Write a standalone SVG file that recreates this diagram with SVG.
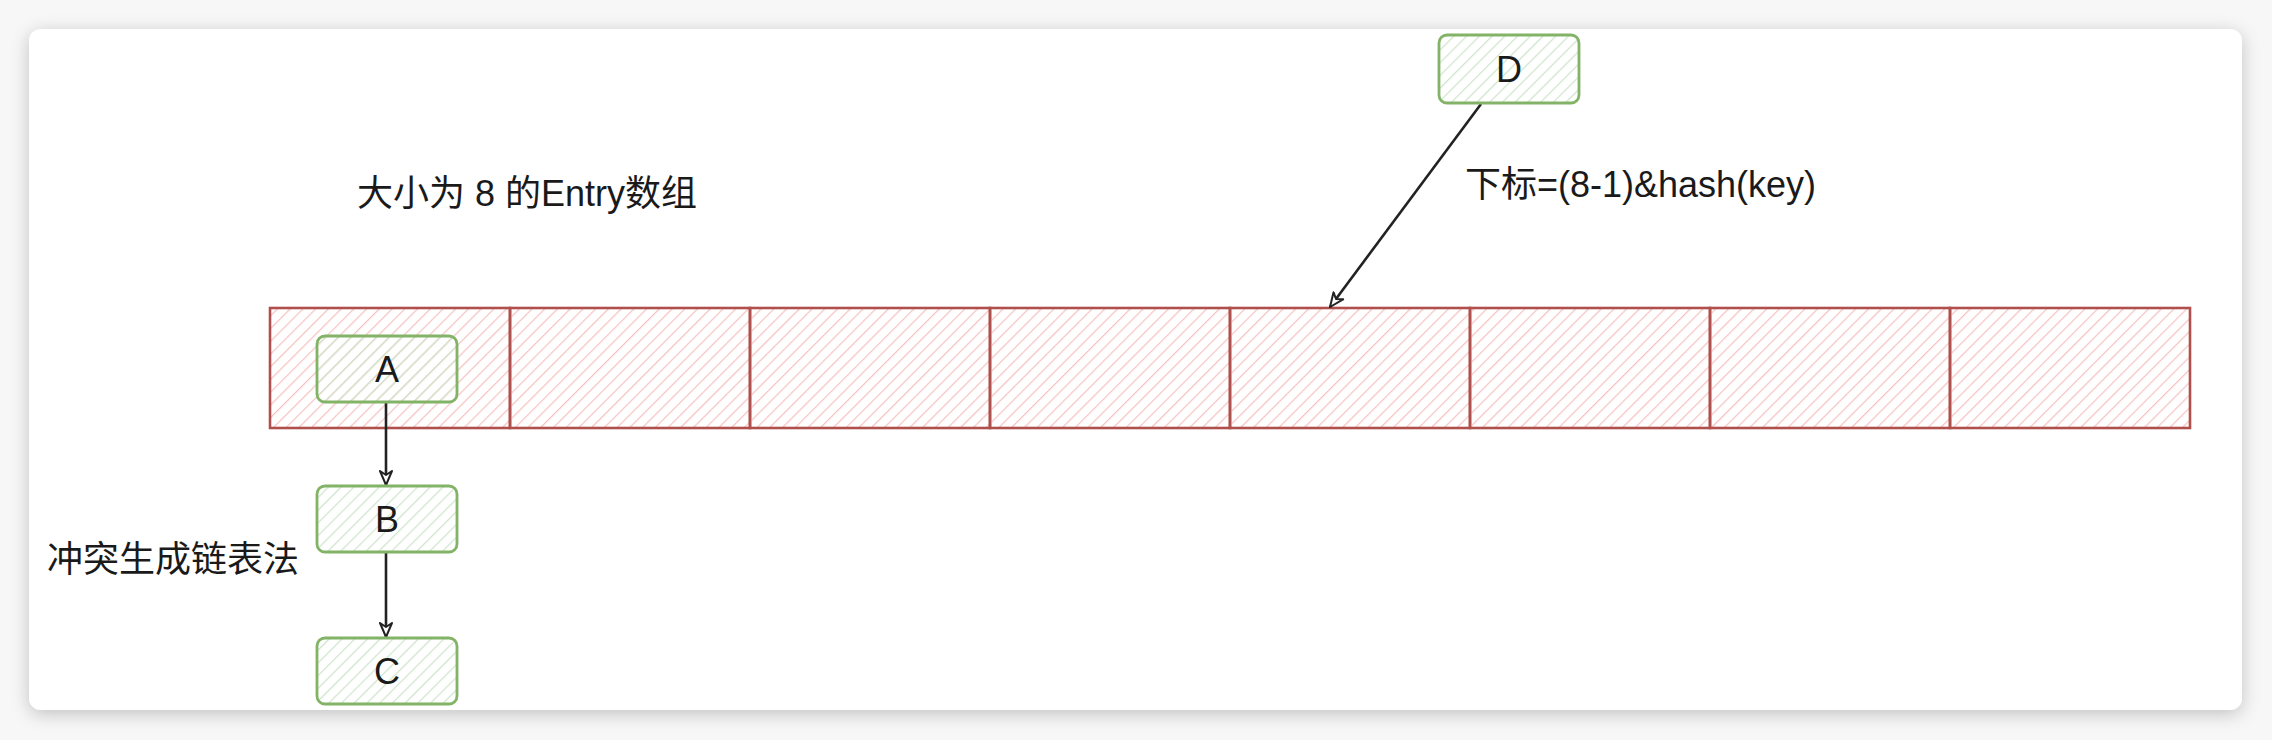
<svg xmlns="http://www.w3.org/2000/svg" width="2272" height="740" viewBox="0 0 2272 740">
  <defs>
    <pattern id="hatchRed" patternUnits="userSpaceOnUse" width="9" height="9" patternTransform="rotate(45)">
      <line x1="0" y1="0" x2="0" y2="9" stroke="#f5c4c2" stroke-width="2.5"/>
    </pattern>
    <pattern id="hatchGreen" patternUnits="userSpaceOnUse" width="9" height="9" patternTransform="rotate(45)">
      <line x1="0" y1="0" x2="0" y2="9" stroke="#cfe5cc" stroke-width="2.5"/>
    </pattern>
    <filter id="shadow" x="-5%" y="-10%" width="110%" height="120%">
      <feDropShadow dx="0" dy="4" stdDeviation="9" flood-color="#000" flood-opacity="0.22"/>
    </filter>
    <marker id="arrow" viewBox="0 0 16 16" refX="15" refY="8" markerWidth="16" markerHeight="16" markerUnits="userSpaceOnUse" orient="auto">
      <path d="M1,2 L15,8 L1,14 L5,8 Z" fill="#fff" stroke="#222" stroke-width="2" stroke-linejoin="round"/>
    </marker>
  </defs>
  <style>
    .cell { fill: url(#hatchRed); stroke: #b0504c; stroke-width: 2.6; }
    .node rect { fill: url(#hatchGreen); stroke: #82b366; stroke-width: 2.8; }
    .lbl { font-family: "Liberation Sans", "Noto Sans CJK SC", sans-serif; font-size: 36px; fill: #1a1a1a; dominant-baseline: central; }
    .ntxt { font-family: "Liberation Sans", Arial, sans-serif; font-size: 36px; fill: #1a1a1a; text-anchor: middle; dominant-baseline: central; }
    .edge { fill: none; stroke: #222; stroke-width: 2.6; }
  </style>
  <rect x="0" y="0" width="2272" height="740" fill="#f7f7f7"/>
  <rect x="29" y="29" width="2213" height="681" rx="12" ry="12" fill="#fff" filter="url(#shadow)"/>

  <g id="array">
    <rect class="cell" x="270" y="308" width="240" height="120"/>
    <rect class="cell" x="510" y="308" width="240" height="120"/>
    <rect class="cell" x="750" y="308" width="240" height="120"/>
    <rect class="cell" x="990" y="308" width="240" height="120"/>
    <rect class="cell" x="1230" y="308" width="240" height="120"/>
    <rect class="cell" x="1470" y="308" width="240" height="120"/>
    <rect class="cell" x="1710" y="308" width="240" height="120"/>
    <rect class="cell" x="1950" y="308" width="240" height="120"/>
  </g>

  <g id="label-array">
    <text class="lbl" x="357" y="193">大小为 8 的Entry数组</text>
  </g>
  <g id="label-chain">
    <text class="lbl" x="47" y="559">冲突生成链表法</text>
  </g>
  <g id="label-index">
    <text class="lbl" x="1465" y="184">下标=(8-1)&amp;hash(key)</text>
  </g>

  <g id="connectors">
    <path class="edge" d="M386,402 L386,485" marker-end="url(#arrow)"/>
    <path class="edge" d="M386,552 L386,637" marker-end="url(#arrow)"/>
    <path class="edge" d="M1481,104 L1330,307" marker-end="url(#arrow)"/>
  </g>

  <g id="node-A" class="node">
    <rect x="317" y="336" width="140" height="66" rx="8" ry="8"/>
    <text class="ntxt" x="387" y="369">A</text>
  </g>
  <g id="node-B" class="node">
    <rect x="317" y="486" width="140" height="66" rx="8" ry="8"/>
    <text class="ntxt" x="387" y="519">B</text>
  </g>
  <g id="node-C" class="node">
    <rect x="317" y="638" width="140" height="66" rx="8" ry="8"/>
    <text class="ntxt" x="387" y="671">C</text>
  </g>
  <g id="node-D" class="node">
    <rect x="1439" y="35" width="140" height="68" rx="8" ry="8"/>
    <text class="ntxt" x="1509" y="69">D</text>
  </g>
</svg>
